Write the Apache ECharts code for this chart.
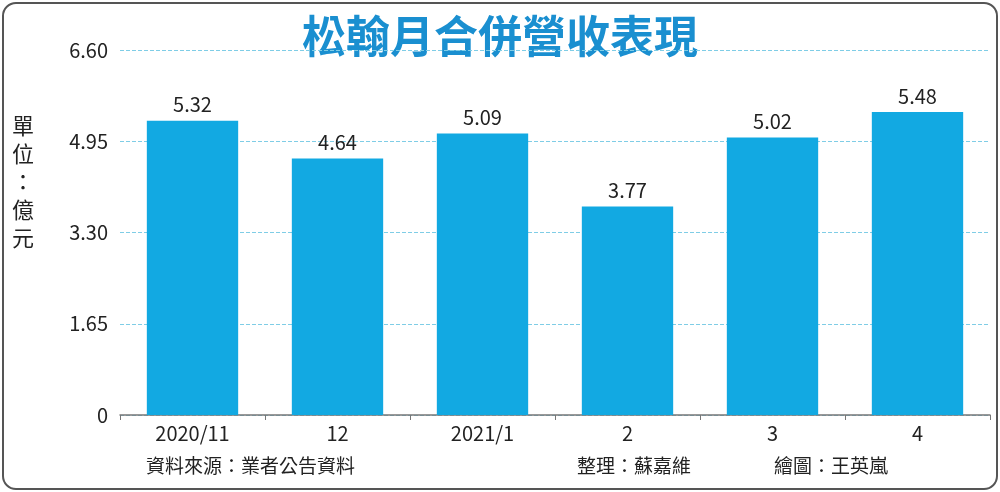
<!DOCTYPE html>
<html><head><meta charset="utf-8">
<script src="https://cdn.jsdelivr.net/npm/echarts@6/dist/echarts.min.js"></script>
<style>
body{margin:0;background:#fff}
#wrap{position:absolute;left:2px;top:2px;width:992px;height:484px;border:2px solid #555;border-radius:14px;overflow:hidden}
#c{width:1000px;height:492px;position:absolute;left:-4px;top:-4px}
</style></head><body>
<div id="wrap"><div id="c"></div></div>
<script>
var months = ['2020/11', '12', '2021/1', '2', '3', '4'];
var revenue = [5.32, 4.64, 5.09, 3.77, 5.02, 5.48];
var yTicks = [0, 1.65, 3.30, 4.95, 6.60];

var chart = echarts.init(document.getElementById('c'));
var font = '"Noto Sans CJK TC", sans-serif';
chart.setOption({
    animation: false,
    grid: {left: 120, right: 10, top: 50, bottom: 77},
    xAxis: {
        type: 'category',
        data: months,
        axisLine: {lineStyle: {color: '#777', width: 1.5}},
        axisTick: {show: true, lineStyle: {color: '#777'}},
        axisLabel: {color: '#222', fontSize: 20, fontFamily: font, margin: 8}
    },
    yAxis: {
        type: 'value',
        min: 0, max: 6.6, interval: 1.65,
        axisLine: {show: false},
        axisTick: {show: false},
        splitLine: {lineStyle: {color: '#7fcde6', type: 'dashed'}},
        axisLabel: {
            color: '#222', fontSize: 20, fontFamily: font, margin: 12,
            formatter: function (v) { return v === 0 ? '0' : v.toFixed(2); }
        }
    },
    series: [{
        type: 'bar',
        data: revenue,
        barWidth: '63%',
        itemStyle: {color: '#12a9e2'},
        label: {show: true, position: 'top', color: '#222', fontSize: 20, fontFamily: font, distance: 6,
            formatter: function (p) { return p.value.toFixed(2); }}
    }],
    graphic: [
        {type: 'rect', shape: {x: 282, y: 10, width: 530, height: 70}, style: {fill: '#fff'}},
        {type: 'text', left: 'center', top: 14, style: {text: '松翰月合併營收表現', fill: '#1a8fd0',
            font: 'bold 44px "Noto Sans CJK TC"', x: 50}},
        {type: 'text', left: 12, top: 112, style: {text: '單\n位\n：\n億\n元', fill: '#222',
            font: '22px "Noto Sans CJK TC"', lineHeight: 28}},
        {type: 'text', left: 146, top: 456, style: {text: '資料來源：業者公告資料', fill: '#222', font: '19px "Noto Sans CJK TC"'}},
        {type: 'text', left: 577, top: 456, style: {text: '整理：蘇嘉維', fill: '#222', font: '19px "Noto Sans CJK TC"'}},
        {type: 'text', left: 774, top: 456, style: {text: '繪圖：王英嵐', fill: '#222', font: '19px "Noto Sans CJK TC"'}}
    ]
});
</script></body></html>
